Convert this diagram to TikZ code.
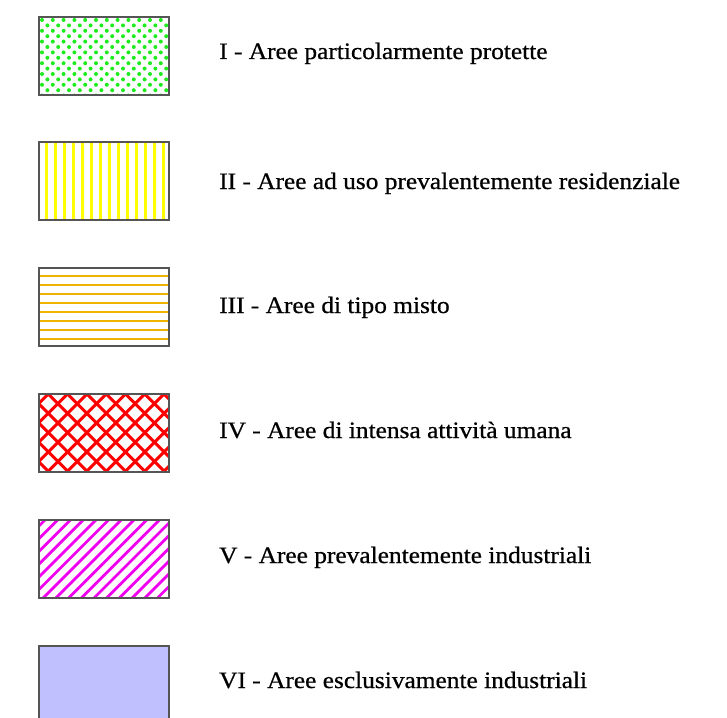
\documentclass[tikz,border=0pt]{standalone}
\usepackage{fontspec}
\setmainfont{Liberation Serif}[FakeStretch=1.08, FakeBold=0.7]
\definecolor{dotgreen}{RGB}{30,235,30}
\definecolor{stripeyellow}{RGB}{255,255,0}
\definecolor{stripeorange}{RGB}{240,180,0}
\definecolor{hatchred}{RGB}{255,0,0}
\definecolor{hatchmagenta}{RGB}{240,0,240}
\definecolor{lavender}{RGB}{192,192,255}
\definecolor{boxedge}{RGB}{85,85,85}
\begin{document}
\begin{tikzpicture}[x=1pt,y=-1pt,
  legbox/.style={draw=boxedge, line width=1.1pt, minimum width=130pt, minimum height=78pt, inner sep=0pt, outer sep=0pt, anchor=north west},
  legtext/.style={anchor=base west, font=\fontsize{23.5}{24}\selectfont, inner sep=0pt, text=black},
  stripe/.style={line width=2.8pt}]
\useasboundingbox (0,0) rectangle (727,717);
% I - dots
\begin{scope}
  \clip (39,17) rectangle (169,95);
  \foreach \j in {0,...,14}{
    \pgfmathsetmacro{\yy}{20+5.4*\j}
    \pgfmathsetmacro{\xo}{mod(\j,2)*5.4}
    \foreach \k in {0,...,12}{
      \fill[dotgreen] ({42+\xo+10.8*\k},\yy) circle (2pt);
    }
  }
\end{scope}
\node[legbox] (b1) at (39,17) {};
% II - vertical yellow
\begin{scope}
  \clip (39,142) rectangle (169,220);
  \foreach \k in {0,...,13}{
    \draw[stripe, stripeyellow] ({46.7+9*\k},142) -- ({46.7+9*\k},220);
  }
\end{scope}
\node[legbox] (b2) at (39,142) {};
% III - horizontal orange
\begin{scope}
  \clip (39,268) rectangle (169,346);
  \foreach \k in {0,...,7}{
    \draw[stripe, stripeorange] (39,{276+9*\k}) -- (169,{276+9*\k});
  }
\end{scope}
\node[legbox] (b3) at (39,268) {};
% IV - red crosshatch
\begin{scope}
  \clip (39,394) rectangle (169,472);
  \foreach \k in {-6,...,12}{
    \draw[line width=3pt, hatchred] ({48.3+19.3*\k},394) -- ({48.3+19.3*\k+80},474);
    \draw[line width=3pt, hatchred] ({48.3+19.3*\k},394) -- ({48.3+19.3*\k-80},474);
  }
\end{scope}
\node[legbox] (b4) at (39,394) {};
% V - magenta diagonal
\begin{scope}
  \clip (39,520) rectangle (169,598);
  \foreach \k in {0,...,17}{
    \draw[stripe, hatchmagenta] ({45+12.7*\k},520) -- ({45+12.7*\k-80},600);
  }
\end{scope}
\node[legbox] (b5) at (39,520) {};
% VI - solid
\node[legbox, fill=lavender] (b6) at (39,646) {};
% labels
\node[legtext] (l1) at (219,59) {I - Aree particolarmente protette};
\node[legtext] (l2) at (219,189) {II - Aree ad uso prevalentemente residenziale};
\node[legtext] (l3) at (219,313) {III - Aree di tipo misto};
\node[legtext] (l4) at (219,438) {IV - Aree di intensa attività umana};
\node[legtext] (l5) at (219,563) {V - Aree prevalentemente industriali};
\node[legtext] (l6) at (219,688) {VI - Aree esclusivamente industriali};
\end{tikzpicture}
\end{document}
